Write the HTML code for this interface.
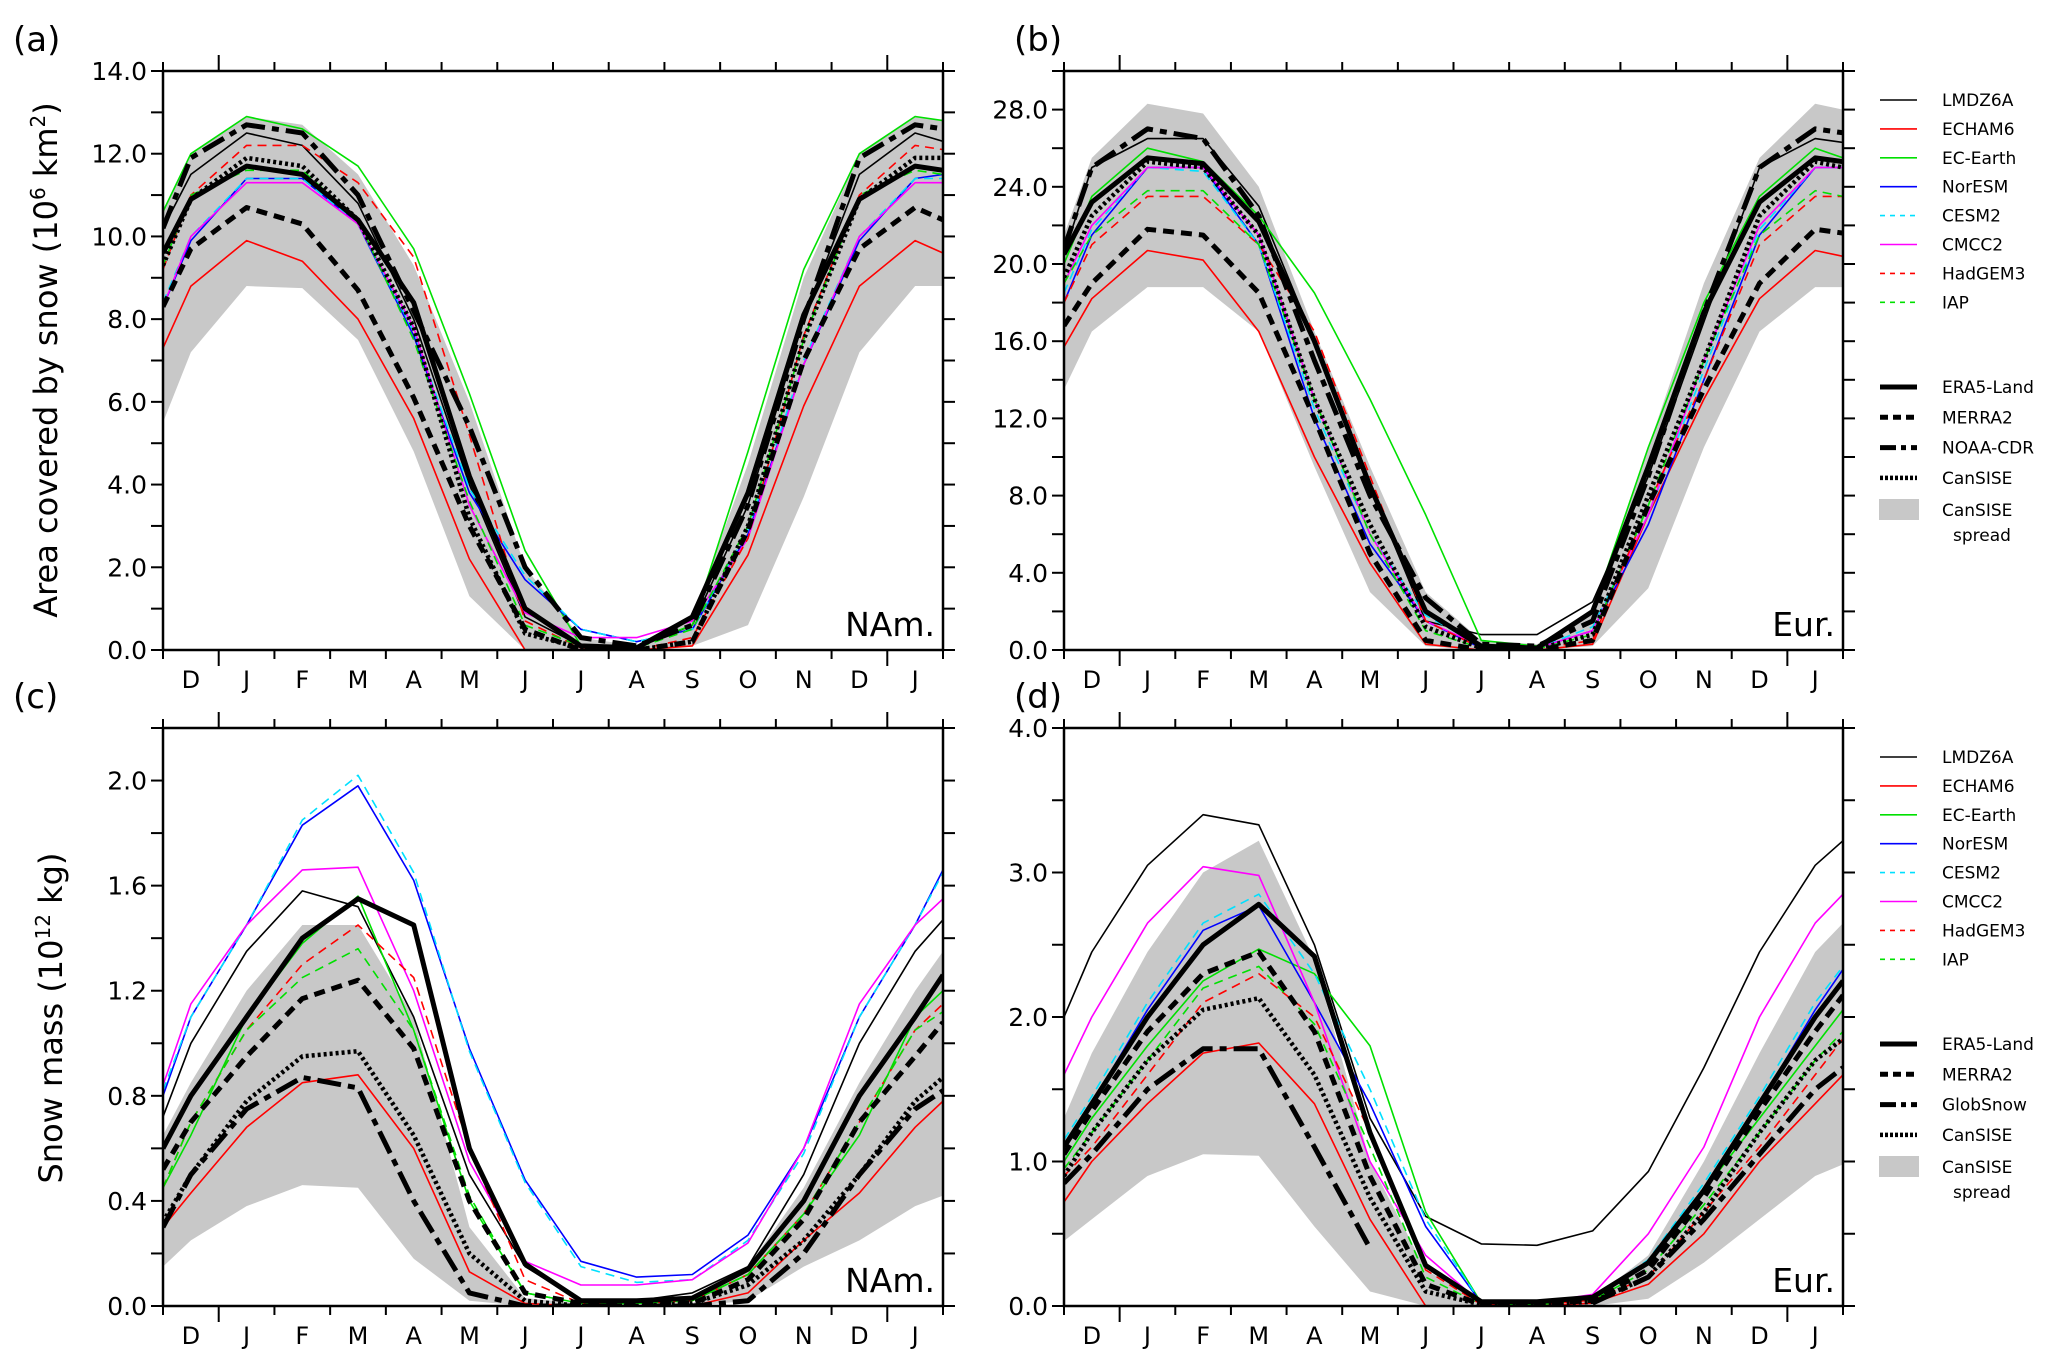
<!DOCTYPE html>
<html><head><meta charset="utf-8"><style>
html,body{margin:0;padding:0;background:#fff;}
svg{display:block;font-family:"DejaVu Sans","Liberation Sans",sans-serif;}
</style></head><body>
<svg id="fig" width="2067" height="1364" viewBox="0 0 2067 1364" xmlns="http://www.w3.org/2000/svg"></svg>
<script>
// ---------- DATA ----------
// 16 points: left edge, D J F M A M J J A S O N D J, right edge
const months = ["D","J","F","M","A","M","J","J","A","S","O","N","D","J"];
const seriesNames = ["LMDZ6A","ECHAM6","EC-Earth","NorESM","CESM2","CMCC2","HadGEM3","IAP"];

// Panel a: NAm snow cover area (10^6 km2)
const aLMDZ=[10.2,11.5,12.5,12.2,10.8,8,4,0.8,0.1,0.05,0.6,3.5,8,11.5,12.5,12.3];
const aECHAM=[7.3,8.8,9.9,9.4,8.0,5.6,2.2,0,0,0,0.1,2.3,5.9,8.8,9.9,9.6];
const aECE=[10.6,12.0,12.9,12.6,11.7,9.7,6.2,2.4,0.1,0.1,0.6,4.8,9.2,12.0,12.9,12.8];
const aNOR=[8.3,9.9,11.4,11.4,10.3,7.6,3.8,1.7,0.5,0.2,0.5,2.8,6.9,9.9,11.4,11.5];
const aCESM=[8.4,10.0,11.4,11.4,10.3,7.7,3.9,1.8,0.5,0.2,0.5,2.9,7.0,10.0,11.4,11.4];
const aCMCC=[8.3,10.0,11.3,11.3,10.3,7.8,3.5,0.9,0.3,0.3,0.7,2.7,6.9,10.0,11.3,11.3];
const aHAD=[9.2,11.0,12.2,12.2,11.3,9.5,5.2,0.7,0.05,0,0.3,2.7,7.6,11.0,12.2,12.1];
const aIAP=[9.3,11.0,11.6,11.6,10.4,7.5,3.6,0.6,0.1,0.05,0.5,3.0,7.5,11.0,11.6,11.5];
const aERA=[9.6,10.9,11.7,11.5,10.4,8.4,4.2,1.0,0.1,0.05,0.8,3.8,8.1,10.9,11.7,11.6];
const aMER=[8.3,9.7,10.7,10.3,8.7,6.1,3.0,0.5,0,0,0.2,2.9,7.0,9.7,10.7,10.4];
const aNOAA=[10.2,11.9,12.7,12.5,11.0,8.2,5.4,2.0,0.3,0.1,0.6,3.5,8.0,11.9,12.7,12.6];
const aCAN=[9.3,10.9,11.9,11.7,10.4,7.8,3.2,0.4,0.05,0,0.2,3.0,7.5,10.9,11.9,11.9];
const aLow=[5.5,7.2,8.8,8.75,7.5,4.8,1.3,0,0,0,0.1,0.6,3.7,7.2,8.8,8.8];
const aHigh=[10.6,12.0,12.9,12.7,11.5,9.3,6.0,2.0,0.3,0.1,0.8,4.5,9.0,12.0,12.9,12.8];

// Panel b: Eur snow cover area
const bLMDZ=[20.5,25,26.5,26.5,23,16,8.5,1.5,0.8,0.8,2.5,9,17,25,26.5,26.3];
const bECHAM=[15.7,18.2,20.7,20.2,16.5,10,4.5,0.3,0,0,0.3,7,13,18.2,20.7,20.4];
const bECE=[20,23.5,26,25.3,22.5,18.5,13,7,0.5,0.2,2,10.5,18,23.5,26,25.5];
const bNOR=[18,21.5,25,25,21,12,5.5,1.5,0.1,0.1,1,6.5,14,21.5,25,25];
const bCESM=[18.5,21.8,25,24.8,21,12.5,6,1.8,0.2,0.1,1.2,7,14.5,21.8,25,25];
const bCMCC=[19,22,25,25,21.5,13,6,1.5,0.2,0.1,1,7,15,22,25,25];
const bHAD=[18,21,23.5,23.5,21,16.5,9,1.5,0.1,0.05,0.5,7.5,14,21,23.5,23.5];
const bIAP=[19,21.5,23.8,23.8,21,13,6,1,0.1,0.05,0.8,7.5,15,21.5,23.8,23.5];
const bERA=[20.5,23.2,25.5,25.2,22.2,16,8.5,2,0.2,0.1,2,9.5,17.5,23.2,25.5,25.3];
const bMER=[16.8,19,21.8,21.5,18.5,12,5,0.5,0,0,0.5,7.5,13.5,19,21.8,21.6];
const bNOAA=[20.8,25,27,26.5,22.5,15,8,2.7,0.3,0.2,1.5,9,17.5,25,27,26.8];
const bCAN=[19.3,22.5,25.3,25,21.5,13,6.5,1.2,0.1,0.05,0.8,8,15,22.5,25.3,25];
const bLow=[13.5,16.5,18.8,18.8,16.5,9.5,3,0.2,0,0,0.2,3.2,10.5,16.5,18.8,18.8];
const bHigh=[21.5,25.5,28.3,27.8,24,16.5,9.5,3,0.5,0.3,2,10.5,19,25.5,28.3,28];

// Panel c: NAm snow mass (10^12 kg)
const cLMDZ=[0.72,1.0,1.35,1.58,1.52,1.1,0.5,0.15,0.02,0.02,0.05,0.15,0.5,1.0,1.35,1.47];
const cECHAM=[0.3,0.43,0.68,0.85,0.88,0.6,0.13,0.01,0,0,0,0.05,0.25,0.43,0.68,0.78];
const cECE=[0.45,0.65,1.1,1.38,1.56,1.05,0.4,0.05,0.01,0.01,0.02,0.12,0.35,0.65,1.1,1.2];
const cNOR=[0.8,1.1,1.45,1.83,1.98,1.62,0.98,0.48,0.17,0.11,0.12,0.27,0.6,1.1,1.45,1.66];
const cCESM=[0.82,1.1,1.45,1.85,2.02,1.65,0.97,0.47,0.15,0.09,0.1,0.25,0.58,1.1,1.45,1.65];
const cCMCC=[0.84,1.15,1.45,1.66,1.67,1.2,0.55,0.17,0.08,0.08,0.1,0.24,0.6,1.15,1.45,1.55];
const cHAD=[0.45,0.7,1.05,1.3,1.45,1.25,0.6,0.1,0.01,0.01,0.02,0.12,0.35,0.7,1.05,1.15];
const cIAP=[0.45,0.7,1.05,1.25,1.36,1.05,0.42,0.05,0.01,0.01,0.02,0.12,0.35,0.7,1.05,1.12];
const cERA=[0.6,0.8,1.1,1.4,1.55,1.45,0.6,0.16,0.02,0.02,0.03,0.14,0.4,0.8,1.1,1.26];
const cMER=[0.52,0.7,0.95,1.17,1.24,0.98,0.4,0.05,0.01,0.01,0.01,0.1,0.33,0.7,0.95,1.08];
const cGLOB=[0.3,0.5,0.75,0.87,0.83,0.4,0.05,0,0,0,0,0.02,0.2,0.5,0.75,0.82];
const cCAN=[0.32,0.5,0.78,0.95,0.97,0.65,0.2,0.02,0,0,0.01,0.08,0.25,0.5,0.78,0.87];
const cLow=[0.15,0.25,0.38,0.46,0.45,0.18,0.02,0,0,0,0,0.02,0.15,0.25,0.38,0.42];
const cHigh=[0.65,0.85,1.2,1.45,1.45,1.1,0.3,0.03,0.01,0.01,0.01,0.15,0.45,0.85,1.2,1.35];

// Panel d: Eur snow mass
const dLMDZ=[2.0,2.45,3.05,3.4,3.33,2.5,1.3,0.62,0.43,0.42,0.52,0.93,1.65,2.45,3.05,3.22];
const dECHAM=[0.72,1.0,1.4,1.75,1.82,1.4,0.6,0,0,0,0.02,0.15,0.5,1.0,1.4,1.6];
const dECE=[1.0,1.3,1.8,2.25,2.47,2.3,1.8,0.65,0.02,0.02,0.05,0.3,0.8,1.3,1.8,2.05];
const dNOR=[1.1,1.4,2.05,2.6,2.77,2.1,1.4,0.55,0.02,0.02,0.05,0.3,0.8,1.4,2.05,2.33];
const dCESM=[1.15,1.45,2.1,2.65,2.85,2.3,1.5,0.6,0.02,0.02,0.06,0.32,0.85,1.45,2.1,2.35];
const dCMCC=[1.6,2.0,2.65,3.04,2.98,2.1,1.0,0.35,0.02,0.02,0.08,0.5,1.1,2.0,2.65,2.85];
const dHAD=[0.9,1.1,1.6,2.1,2.3,2.0,1.2,0.25,0.01,0.01,0.04,0.2,0.65,1.1,1.6,1.85];
const dIAP=[0.95,1.2,1.7,2.2,2.35,1.95,1.1,0.2,0.01,0.01,0.04,0.25,0.7,1.2,1.7,1.9];
const dERA=[1.1,1.4,2.0,2.5,2.78,2.42,1.2,0.28,0.03,0.03,0.06,0.3,0.8,1.4,2.0,2.25];
const dMER=[1.05,1.35,1.9,2.3,2.45,1.9,0.9,0.15,0.01,0.01,0.04,0.25,0.75,1.35,1.9,2.15];
const dGLOB=[0.85,1.05,1.5,1.78,1.78,1.1,0.4,null,null,null,0.02,0.2,0.6,1.05,1.5,1.65];
const dCAN=[0.9,1.2,1.7,2.05,2.13,1.6,0.75,0.1,0.01,0.01,0.03,0.2,0.65,1.2,1.7,1.85];
const dLow=[0.45,0.6,0.9,1.05,1.04,0.55,0.1,0,0,0,0,0.05,0.3,0.6,0.9,0.98];
const dHigh=[1.3,1.75,2.45,3.0,3.22,2.4,1.0,0.25,0.03,0.03,0.05,0.35,1.0,1.75,2.45,2.65];

const aTicks=["0.0","2.0","4.0","6.0","8.0","10.0","12.0","14.0"];
const bTicks=["0.0","4.0","8.0","12.0","16.0","20.0","24.0","28.0"];
const cTicks=["0.0","0.4","0.8","1.2","1.6","2.0"];
const dTicks=["0.0","1.0","2.0","3.0","4.0"];

// ---------- DRAW ----------
const NS="http://www.w3.org/2000/svg";
const svg=document.getElementById('fig');
function mk(tag,attrs,parent){const e=document.createElementNS(NS,tag);for(const k in attrs)e.setAttribute(k,attrs[k]);(parent||svg).appendChild(e);return e;}

const modelStyles=[
 {c:"#000",d:""},{c:"#ff0000",d:""},{c:"#00e000",d:""},{c:"#0000ff",d:""},
 {c:"#00e0ff",d:"9 6"},{c:"#ff00ff",d:""},{c:"#ff0000",d:"9 6"},{c:"#00e000",d:"9 6"}];
const obsStyles=[{w:5,d:""},{w:5,d:"11 7"},{w:5,d:"24 7 7 7"},{w:4.5,d:"3 3"}];

function panel(opts){
 const {id,L,R,T,B,ymax,yStep,minorStep,ticks,models,obs,low,high,region,letter,obsNames,legend}=opts;
 const g=mk('g',{});
 
 
 const W=R-L;
 const xs=i=> i===0?L:(i===15?R:L+(i-0.5)*W/14);
 const ys=v=> B-(v/ymax)*(B-T);
 const clipId='clip'+id;
 const cp=mk('clipPath',{id:clipId},g);mk('rect',{x:L,y:T,width:W,height:B-T},cp);
 const plot=mk('g',{'clip-path':'url(#'+clipId+')'},g);
 // spread
 let pts=[];
 for(let i=0;i<16;i++)pts.push(xs(i)+','+ys(high[i]));
 for(let i=15;i>=0;i--)pts.push(xs(i)+','+ys(low[i]));
 const sp=mk('polygon',{points:pts.join(' '),fill:'#c8c8c8',stroke:'none'},plot);
 
 
 function line(arr,color,w,dash,name){
  let d='',pen=false;
  arr.forEach((v,i)=>{if(v===null){pen=false;return;}d+=(pen?'L':'M')+xs(i).toFixed(1)+' '+ys(v).toFixed(1)+' ';pen=true;});
  const p=mk('path',{d:d,fill:'none',stroke:color,'stroke-width':w,'stroke-dasharray':dash,'stroke-linejoin':'round'},plot);
  
  
 }
 models.forEach((arr,k)=>line(arr,modelStyles[k].c,1.6,modelStyles[k].d,seriesNames[k]));
 obs.forEach((arr,k)=>line(arr,'#000',obsStyles[k].w,obsStyles[k].d,obsNames[k]));
 // frame
 mk('rect',{x:L,y:T,width:W,height:B-T,fill:'none',stroke:'#000','stroke-width':2.5},g);
 // x ticks
 for(let k=0;k<=14;k++){
  const x=L+k*W/14, big=(k===1||k===13);
  const len=big?16:9;
  mk('line',{x1:x,y1:T,x2:x,y2:T-len,stroke:'#000','stroke-width':2},g);
  mk('line',{x1:x,y1:B,x2:x,y2:B+len,stroke:'#000','stroke-width':2},g);
 }
 months.forEach((m,k)=>{
  const t=mk('text',{x:L+(k+0.5)*W/14,y:B+38,'font-size':24,'text-anchor':'middle',fill:'#000'},g);
  t.textContent=m;
  
  
 });
 // y ticks
 for(let v=0;v<=ymax+1e-9;v+=minorStep){
  const y=ys(v);
  mk('line',{x1:L,y1:y,x2:L-12,y2:y,stroke:'#000','stroke-width':2},g);
  mk('line',{x1:R,y1:y,x2:R+12,y2:y,stroke:'#000','stroke-width':2},g);
 }
 ticks.forEach((lab,k)=>{
  const t=mk('text',{x:L-16,y:ys(k*yStep)+9,'font-size':25,'text-anchor':'end',fill:'#000'},g);
  t.textContent=lab;
  
  
 });
 const rg=mk('text',{x:R-8,y:B-14,'font-size':33,'text-anchor':'end',fill:'#000'},g);
 rg.textContent=region;
 
 
 const lt=mk('text',{x:L-150+(id==='b'||id==='d'?100:0),y:T-20,'font-size':34,fill:'#000'},g);
 lt.textContent=letter;
 
 
 if(legend){
  const lg=mk('g',{},g);
  
  
  const y0=T+29;
  seriesNames.forEach((n,k)=>{
   const y=y0+k*28.9;
   mk('line',{x1:1880,y1:y,x2:1917,y2:y,stroke:modelStyles[k].c,'stroke-width':1.6,'stroke-dasharray':modelStyles[k].d?'5 5':''},lg);
   const t=mk('text',{x:1942,y:y+6,'font-size':17,fill:'#000'},lg);
   t.textContent=n;
   
   
  });
  const y1=T+316;
  obsNames.forEach((n,k)=>{
   const y=y1+k*30.3;
   mk('line',{x1:1880,y1:y,x2:1917,y2:y,stroke:'#000','stroke-width':obsStyles[k].w,'stroke-dasharray':['', '8 5','16 5 5 5','3 2'][k]},lg);
   const t=mk('text',{x:1942,y:y+6,'font-size':17,fill:'#000'},lg);
   t.textContent=n;
   
   
  });
  mk('rect',{x:1879,y:T+428,width:40,height:21,fill:'#c8c8c8'},lg);
  const t1=mk('text',{x:1942,y:T+445,'font-size':17,fill:'#000'},lg);t1.textContent='CanSISE';
  
  
  const t2=mk('text',{x:1953,y:T+470,'font-size':17,fill:'#000'},lg);t2.textContent='spread';
  
  
 }
}

panel({id:'a',L:163,R:943,T:71,B:650,ymax:14,yStep:2,minorStep:1,ticks:aTicks,
 models:[aLMDZ,aECHAM,aECE,aNOR,aCESM,aCMCC,aHAD,aIAP],obs:[aERA,aMER,aNOAA,aCAN],low:aLow,high:aHigh,
 region:'NAm.',letter:'(a)',obsNames:["ERA5-Land","MERRA2","NOAA-CDR","CanSISE"],legend:false});
panel({id:'b',L:1064,R:1843,T:71,B:650,ymax:30,yStep:4,minorStep:2,ticks:bTicks,
 models:[bLMDZ,bECHAM,bECE,bNOR,bCESM,bCMCC,bHAD,bIAP],obs:[bERA,bMER,bNOAA,bCAN],low:bLow,high:bHigh,
 region:'Eur.',letter:'(b)',obsNames:["ERA5-Land","MERRA2","NOAA-CDR","CanSISE"],legend:true});
panel({id:'c',L:163,R:943,T:728,B:1306,ymax:2.2,yStep:0.4,minorStep:0.2,ticks:cTicks,
 models:[cLMDZ,cECHAM,cECE,cNOR,cCESM,cCMCC,cHAD,cIAP],obs:[cERA,cMER,cGLOB,cCAN],low:cLow,high:cHigh,
 region:'NAm.',letter:'(c)',obsNames:["ERA5-Land","MERRA2","GlobSnow","CanSISE"],legend:false});
panel({id:'d',L:1064,R:1843,T:728,B:1306,ymax:4,yStep:1,minorStep:0.5,ticks:dTicks,
 models:[dLMDZ,dECHAM,dECE,dNOR,dCESM,dCMCC,dHAD,dIAP],obs:[dERA,dMER,dGLOB,dCAN],low:dLow,high:dHigh,
 region:'Eur.',letter:'(d)',obsNames:["ERA5-Land","MERRA2","GlobSnow","CanSISE"],legend:true});

// axis titles
const yt1=mk('text',{x:0,y:0,'font-size':32,'text-anchor':'middle',fill:'#000',transform:'translate(57,360) rotate(-90)'});
yt1.innerHTML='Area covered by snow (10<tspan baseline-shift="super" font-size="20">6</tspan> km<tspan baseline-shift="super" font-size="20">2</tspan>)';


const yt2=mk('text',{x:0,y:0,'font-size':32,'text-anchor':'middle',fill:'#000',transform:'translate(62,1018) rotate(-90)'});
yt2.innerHTML='Snow mass (10<tspan baseline-shift="super" font-size="20">12</tspan> kg)';


</script>
</body></html>
